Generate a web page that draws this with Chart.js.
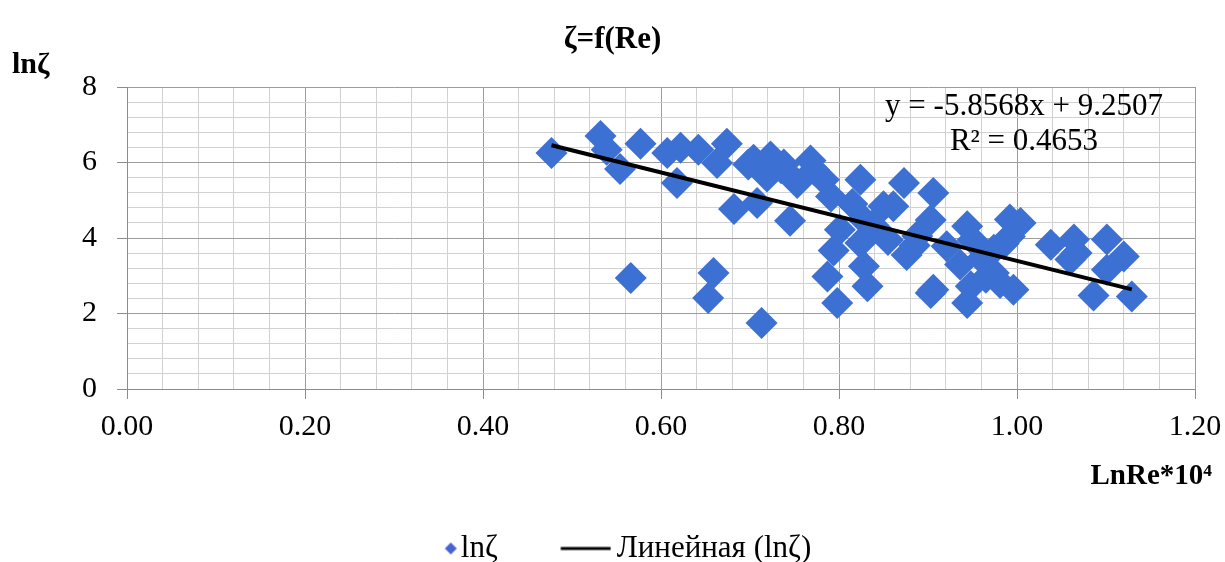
<!DOCTYPE html>
<html>
<head>
<meta charset="utf-8">
<script src="https://cdn.jsdelivr.net/npm/chart.js@4.4.1/dist/chart.umd.min.js"></script>
<style>
  html, body { margin: 0; padding: 0; background: #ffffff; }
  #wrap { width: 1225px; height: 562px; }
</style>
</head>
<body>
<div id="wrap"><canvas id="c" width="1225" height="562"></canvas></div>
<script>
// ---- data ----
const chartTitle = 'ζ=f(Re)';
const yAxisTitle = 'lnζ';
const xAxisTitle = 'LnRe*10⁴';
const seriesName = 'lnζ';
const trendName = 'Линейная (lnζ)';
const equationText = 'y = -5.8568x + 9.2507';
const r2Text = 'R² = 0.4653';
const trendSlope = -5.8568;
const trendIntercept = 9.2507;

const xMajorTicks = [0.00, 0.20, 0.40, 0.60, 0.80, 1.00, 1.20];
const yMajorTicks = [0, 2, 4, 6, 8];

const xValues = [0.477, 0.532, 0.539, 0.554, 0.577, 0.566, 0.607, 0.618, 0.622, 0.642,
                 0.653, 0.659, 0.663, 0.674, 0.682, 0.704, 0.708, 0.713, 0.723, 0.719,
                 0.738, 0.745, 0.753, 0.768, 0.783, 0.791, 0.794, 0.787, 0.798, 0.801,
                 0.824, 0.828, 0.824, 0.828, 0.832, 0.850, 0.861, 0.873, 0.876, 0.903,
                 0.906, 0.906, 0.903, 0.921, 0.936, 0.944, 0.944, 0.948, 0.974, 0.974,
                 0.981, 0.992, 0.992, 0.996, 1.004, 1.038, 1.064, 1.060, 1.067, 1.101,
                 1.120, 1.101, 1.086, 1.129, 0.772, 0.815, 0.838, 0.855, 0.885, 0.888,
                 0.950, 0.960, 0.965, 0.985, 0.735, 0.698];
const yValues = [6.25, 6.70, 6.34, 5.83, 6.50, 2.94, 6.25, 5.46, 6.39, 6.34,
                 2.41, 3.07, 5.99, 6.50, 4.77, 6.07, 4.93, 1.75, 6.16, 5.63,
                 5.95, 4.46, 5.46, 6.05, 5.54, 5.10, 3.67, 2.98, 2.28, 4.22,
                 5.54, 4.48, 3.87, 3.25, 2.72, 4.84, 4.84, 5.46, 3.55, 4.48,
                 5.19, 2.63, 2.54, 3.78, 3.30, 4.31, 2.28, 2.72, 3.69, 3.07,
                 2.81, 4.49, 4.04, 2.63, 4.40, 3.82, 3.96, 3.43, 3.60, 3.96,
                 3.51, 3.16, 2.48, 2.45, 5.80, 4.90, 4.35, 3.95, 3.80, 4.05,
                 3.95, 3.45, 2.95, 3.85, 5.85, 5.95];

// ---- styles ----
const FONT = "'Liberation Serif', 'Times New Roman', serif";
const pointColor = '#3d70d3';
const minorGrid = '#d2d2d2';
const majorGrid = '#9c9c9c';

const scatterPoints = xValues.map((x, i) => ({ x: x, y: yValues[i] }));
const xMin = Math.min(...xValues), xMax = Math.max(...xValues);
const trendPoints = [xMin, xMax].map(x => ({ x: x, y: trendSlope * x + trendIntercept }));

function isMajor(v, list) { return list.some(t => Math.abs(t - v) < 1e-6); }

function diamondImage() {
  const c = document.createElement('canvas');
  c.width = 58; c.height = 16;
  const g = c.getContext('2d');
  const cx = 50.25, cy = 8, r = 6;
  g.fillStyle = '#4a62d2';
  g.beginPath();
  g.moveTo(cx - r, cy); g.lineTo(cx, cy - r); g.lineTo(cx + r, cy); g.lineTo(cx, cy + r);
  g.closePath(); g.fill();
  return c;
}
function lineImage() {
  const c = document.createElement('canvas');
  c.width = 52; c.height = 6;
  const g = c.getContext('2d');
  g.strokeStyle = '#000000'; g.lineWidth = 3;
  g.beginPath(); g.moveTo(1.25, 3); g.lineTo(51.25, 3); g.stroke();
  return c;
}
const legendDiamond = diamondImage();
const legendLine = lineImage();

const textPlugin = {
  id: 'extraText',
  afterDraw(chart) {
    const ctx = chart.ctx;
    ctx.save();
    ctx.fillStyle = '#000';
    ctx.textBaseline = 'alphabetic';
    ctx.font = 'bold 30px ' + FONT;
    ctx.textAlign = 'left';
    ctx.fillText(yAxisTitle, 12, 73);
    ctx.font = 'bold 29px ' + FONT;
    ctx.textAlign = 'right';
    ctx.fillText(xAxisTitle, 1212, 484);
    ctx.font = '31px ' + FONT;
    ctx.textAlign = 'center';
    ctx.fillText(equationText, 1024, 115);
    ctx.fillText(r2Text, 1024, 150);
    ctx.restore();
  }
};

const bgPlugin = {
  id: 'bg',
  beforeDraw(chart) {
    const ctx = chart.ctx;
    ctx.save(); ctx.fillStyle = '#fff'; ctx.fillRect(0, 0, chart.width, chart.height); ctx.restore();
  }
};

new Chart(document.getElementById('c'), {
  type: 'scatter',
  data: {
    datasets: [
      {
        label: seriesName,
        data: scatterPoints,
        pointStyle: 'rectRot',
        pointRadius: 16,
        pointHoverRadius: 16,
        backgroundColor: pointColor,
        borderColor: pointColor,
        borderWidth: 0,
        order: 1
      },
      {
        label: trendName,
        type: 'line',
        data: trendPoints,
        showLine: true,
        borderColor: '#000000',
        backgroundColor: '#000000',
        borderWidth: 4,
        pointRadius: 0,
        fill: false,
        order: 0
      }
    ]
  },
  options: {
    responsive: false,
    animation: false,
    devicePixelRatio: 1,
    layout: { padding: { left: 30, right: 30, top: 0, bottom: -12 } },
    plugins: {
      tooltip: { enabled: false },
      title: {
        display: true,
        text: chartTitle,
        color: '#000',
        font: { family: FONT, size: 31, weight: 'bold', lineHeight: 1.2 },
        padding: { top: 21.4, bottom: 28.4 }
      },
      legend: {
        position: 'bottom',
        labels: {
          color: '#000',
          font: { family: FONT, size: 31 },
          usePointStyle: true,
          pointStyleWidth: 31.5,
          padding: 72,
          sort: (a, b) => a.datasetIndex - b.datasetIndex,
          generateLabels(chart) {
            const items = Chart.defaults.plugins.legend.labels.generateLabels(chart);
            items.forEach(it => {
              it.pointStyle = it.datasetIndex === 0 ? legendDiamond : legendLine;
            });
            return items;
          }
        }
      }
    },
    scales: {
      x: {
        type: 'linear',
        min: 0, max: 1.2,
        afterFit(scale) { scale.height = 72; scale.paddingRight = 0; scale.paddingLeft = 0; },
        border: { display: true, color: '#8c8c8c', width: 1 },
        grid: {
          color: c => isMajor(c.tick.value, xMajorTicks) ? majorGrid : minorGrid,
          tickColor: c => isMajor(c.tick.value, xMajorTicks) ? '#8c8c8c' : 'rgba(0,0,0,0)',
          tickLength: 10,
          drawTicks: true
        },
        ticks: {
          stepSize: 0.04,
          autoSkip: false,
          maxRotation: 0,
          minRotation: 0,
          padding: 10,
          color: '#000',
          font: { family: FONT, size: 30 },
          callback: v => isMajor(v, xMajorTicks) ? Number(v).toFixed(2) : ''
        }
      },
      y: {
        type: 'linear',
        min: 0, max: 8,
        afterFit(scale) { scale.width = 97; },
        border: { display: true, color: '#8c8c8c', width: 1 },
        grid: {
          color: c => isMajor(c.tick.value, yMajorTicks) ? majorGrid : minorGrid,
          tickColor: c => isMajor(c.tick.value, yMajorTicks) ? '#8c8c8c' : 'rgba(0,0,0,0)',
          tickLength: 10,
          drawTicks: true
        },
        ticks: {
          stepSize: 0.4,
          autoSkip: false,
          padding: 20,
          color: '#000',
          font: { family: FONT, size: 30 },
          callback: v => isMajor(v, yMajorTicks) ? String(Math.round(v)) : ''
        }
      }
    }
  },
  plugins: [bgPlugin, textPlugin]
});
</script>
</body>
</html>
